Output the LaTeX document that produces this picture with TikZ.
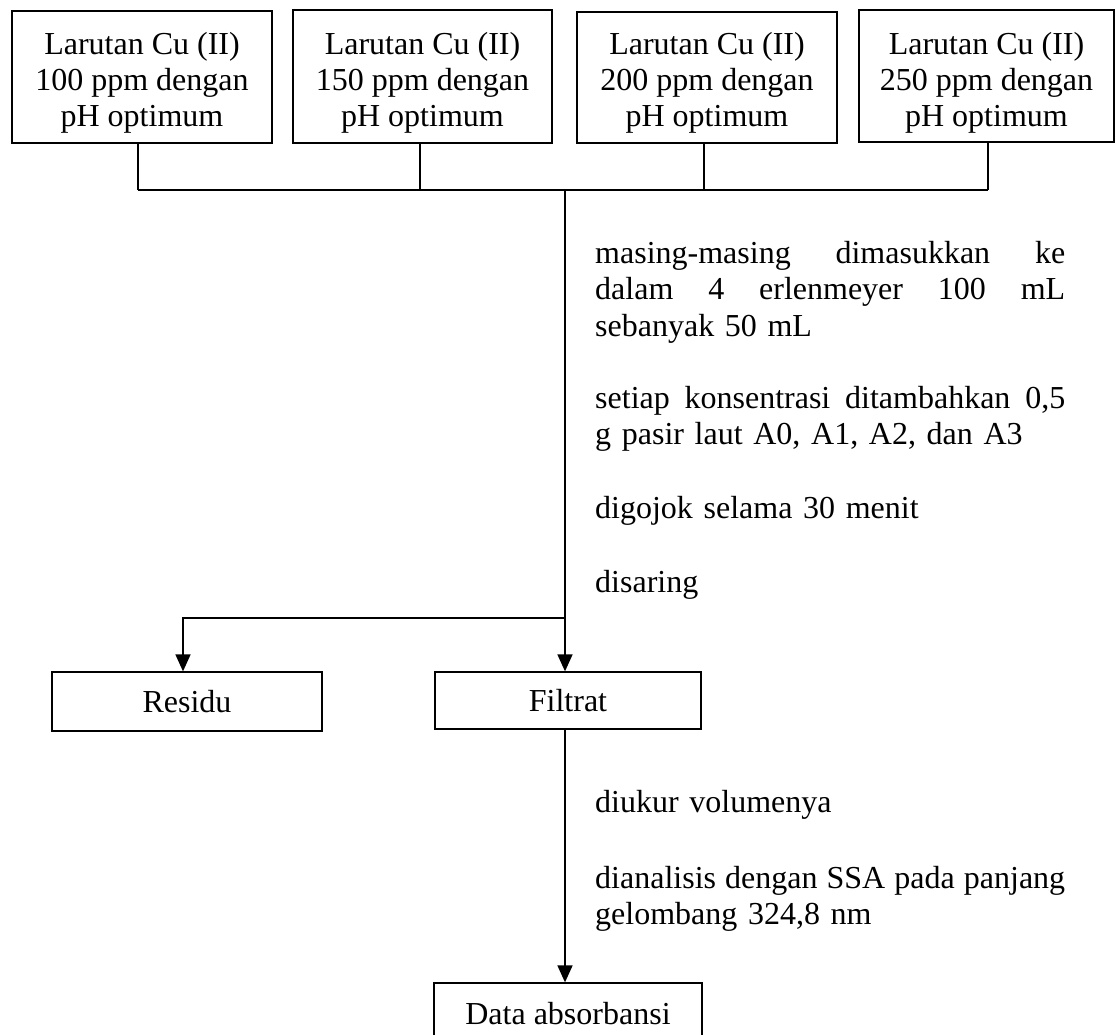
\documentclass[tikz,border=0pt]{standalone}
\usepackage{fontspec}
\setmainfont{Liberation Serif}
\usetikzlibrary{arrows.meta}
\newcommand{\fullline}[1]{\leavevmode\hbox to 470pt{#1}}
\begin{document}
\begin{tikzpicture}[x=1pt,y=-1pt,
  txt/.style={font=\fontsize{32}{36.5}\selectfont},
  frame/.style={draw,line width=1.3pt,inner sep=0pt},
  box/.style={frame,align=center,txt},
  label/.style={inner sep=0pt,align=center,font=\fontsize{32}{36}\selectfont},
  link/.style={line width=1.6pt},
  arr/.style={line width=1.6pt,-{Triangle[width=15pt,length=17pt]}},
  note/.style={anchor=base west,inner sep=0pt,text width=470pt,align=left,txt}]
\useasboundingbox (0,0) rectangle (1116,1034);

% solutions of the four concentrations
\node[frame,minimum width=260pt,minimum height=132pt] (c100) at (142,77) {};
\node[frame,minimum width=259pt,minimum height=133pt] (c150) at (422.5,76.5) {};
\node[frame,minimum width=260pt,minimum height=131pt] (c200) at (707,77.5) {};
\node[frame,minimum width=255pt,minimum height=132pt] (c250) at (986.5,76) {};
\node[label] (t100) at (c100.center |- 0,83) {Larutan Cu (II)\\100 ppm dengan\\pH optimum};
\node[label] (t150) at (c150.center |- 0,83) {Larutan Cu (II)\\150 ppm dengan\\pH optimum};
\node[label] (t200) at (c200.center |- 0,83) {Larutan Cu (II)\\200 ppm dengan\\pH optimum};
\node[label] (t250) at (c250.center |- 0,83) {Larutan Cu (II)\\250 ppm dengan\\pH optimum};

% products
\node[box,minimum width=270pt,minimum height=59pt] (residu) at (187,701.5) {Residu};
\node[box,minimum width=266pt,minimum height=57pt] (filtrat) at (568,700.5) {Filtrat};
\node[box,minimum width=268pt,minimum height=62pt] (data) at (568,1014) {Data absorbansi};

% collecting line
\coordinate (j1) at (138,190);
\coordinate (j2) at (420,190);
\coordinate (j3) at (704,190);
\coordinate (j4) at (988,190);
\coordinate (hub) at (565,190);
\coordinate (split) at (565,618);
\coordinate (rcol) at (183,618);

\draw[link] (c100.south -| j1) -- (j1);
\draw[link] (c150.south -| j2) -- (j2);
\draw[link] (c200.south -| j3) -- (j3);
\draw[link] (c250.south -| j4) -- (j4);
\draw[link] (j1) -- (j4);

\draw[arr] (hub) -- (filtrat.north -| hub);
\draw[arr] (split) -- (rcol) -- (residu.north -| rcol);
\draw[arr] (filtrat.south -| hub) -- (data.north -| hub);

% procedure notes
\node[note] (n1) at (595,263) {\fullline{masing-masing\hfill dimasukkan\hfill ke}\\\fullline{dalam\hfill 4\hfill erlenmeyer\hfill 100\hfill mL}\\sebanyak 50 mL};
\node[note] (n2) at (595,408) {\fullline{setiap\hfill konsentrasi\hfill ditambahkan\hfill 0,5}\\g pasir laut A0, A1, A2, dan A3};
\node[note] (n3) at (595,518) {digojok selama 30 menit};
\node[note] (n4) at (595,592) {disaring};
\node[note] (n5) at (595,812) {diukur volumenya};
\node[note] (n6) at (595,888) {\fullline{dianalisis\hfill dengan\hfill SSA\hfill pada\hfill panjang}\\gelombang 324,8 nm};
\end{tikzpicture}
\end{document}
